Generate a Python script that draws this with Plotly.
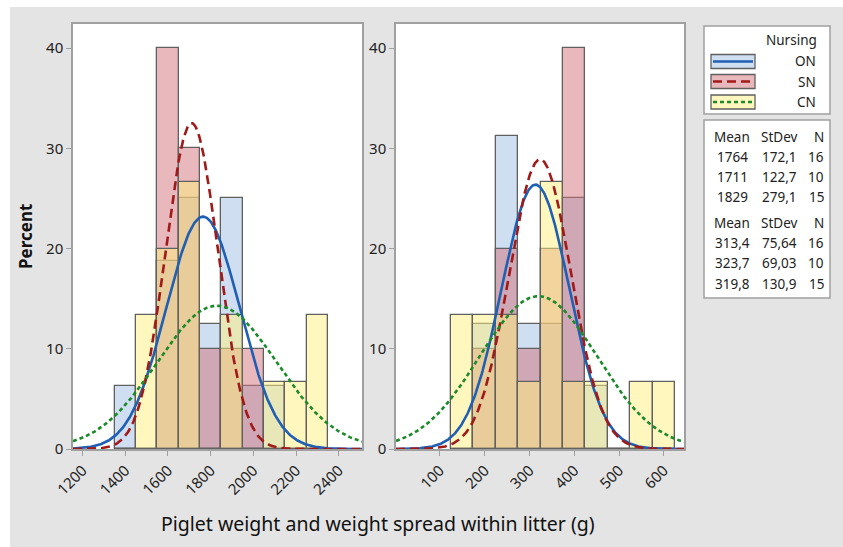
import numpy as np
import plotly.graph_objects as go

W, H = 843, 547

# ---------------- data ----------------
groups = ["ON", "SN", "CN"]

# Left panel: piglet weight (g), bins of width 100
w_centers = [1400, 1500, 1600, 1700, 1800, 1900, 2000, 2100, 2200, 2300]
w_pct_ON = [6.25, 0, 18.75, 25.0, 12.5, 25.0, 6.25, 6.25, 0, 0]
w_pct_SN = [0, 0, 40.0, 30.0, 10.0, 10.0, 10.0, 0, 0, 0]
w_pct_CN = [0, 13.33, 20.0, 26.67, 0, 13.33, 0, 6.67, 6.67, 13.33]
w_mean = [1764, 1711, 1829]
w_sd = [172.1, 122.7, 279.1]
w_n = [16, 10, 15]
w_ticks = [1200, 1400, 1600, 1800, 2000, 2200, 2400]

# Right panel: weight spread within litter (g), bins of width 50
s_centers = [150, 200, 250, 300, 350, 400, 450, 500, 550, 600]
s_pct_ON = [0, 12.5, 31.25, 12.5, 12.5, 25.0, 6.25, 0, 0, 0]
s_pct_SN = [0, 10.0, 20.0, 10.0, 20.0, 40.0, 0, 0, 0, 0]
s_pct_CN = [13.33, 13.33, 13.33, 6.67, 26.67, 6.67, 6.67, 0, 6.67, 6.67]
s_mean = [313.4, 323.7, 319.8]
s_sd = [75.64, 69.03, 130.9]
s_n = [16, 10, 15]
s_ticks = [100, 200, 300, 400, 500, 600]

stat_w_labels = ["1764", "1711", "1829"]
stat_w_sd_labels = ["172,1", "122,7", "279,1"]
stat_s_labels = ["313,4", "323,7", "319,8"]
stat_s_sd_labels = ["75,64", "69,03", "130,9"]

# ---------------- styles ----------------
fill = {"ON": "rgba(159,189,225,0.5)", "SN": "rgba(209,113,121,0.5)", "CN": "rgba(255,239,125,0.5)"}
line_col = {"ON": "#1f5fb4", "SN": "#a11a1a", "CN": "#1c8a2a"}
dash = {"ON": "solid", "SN": "9px,5px", "CN": "4px,3px"}
FONT = "Noto Sans"
TXT = "#222222"


def px(x):
    return x / W


def py(y):
    return 1 - y / H


fig = go.Figure()

w_range = [1155, 2509]
s_range = [2, 645]

panels = [
    (w_centers, [w_pct_ON, w_pct_SN, w_pct_CN], w_mean, w_sd, 100, w_range, "x", "y"),
    (s_centers, [s_pct_ON, s_pct_SN, s_pct_CN], s_mean, s_sd, 50, s_range, "x2", "y2"),
]

for centers, pcts, means, sds, bw, xr, xa, ya in panels:
    for g, vals in zip(groups, pcts):
        fig.add_trace(go.Bar(
            x=centers, y=vals, width=bw, xaxis=xa, yaxis=ya,
            marker=dict(color=fill[g], line=dict(color="#606060", width=1.3)),
            showlegend=False, hoverinfo="skip"))
    xs = np.linspace(xr[0], xr[1], 400)
    for g, m, s in zip(groups, means, sds):
        ys = 100 * bw * np.exp(-0.5 * ((xs - m) / s) ** 2) / (s * np.sqrt(2 * np.pi))
        fig.add_trace(go.Scatter(
            x=xs, y=ys, mode="lines", xaxis=xa, yaxis=ya,
            line=dict(color=line_col[g], width=2.6, dash=dash[g]),
            showlegend=False, hoverinfo="skip"))

axis_common = dict(
    showline=True, linecolor="#a0a0a0", linewidth=1.5, mirror=True,
    ticks="outside", tickcolor="#a0a0a0", ticklen=5, tickwidth=1,
    showgrid=False, zeroline=False, automargin=False,
    tickfont=dict(family=FONT, size=15, color=TXT),
)

y_top, y_bot = 24, 449
fig.update_layout(
    width=W, height=H,
    margin=dict(l=0, r=0, t=0, b=0, pad=0),
    paper_bgcolor="#e4e4e4",
    plot_bgcolor="white",
    barmode="overlay",
    bargap=0,
    showlegend=False,
    xaxis=dict(domain=[px(73), px(362)], range=w_range, tickvals=w_ticks,
               ticktext=[str(t) for t in w_ticks], tickangle=-45, anchor="y", **axis_common),
    yaxis=dict(domain=[py(y_bot), py(y_top)], range=[0, 42.4], tickvals=[0, 10, 20, 30, 40],
               anchor="x", **axis_common),
    xaxis2=dict(domain=[px(396), px(684)], range=s_range, tickvals=s_ticks,
                ticktext=[str(t) for t in s_ticks], tickangle=-45, anchor="y2", **axis_common),
    yaxis2=dict(domain=[py(y_bot), py(y_top)], range=[0, 42.4], tickvals=[0, 10, 20, 30, 40],
                anchor="x2", **axis_common),
)

shapes = []
annotations = []


def txt(text, x, y, xa="center", size=14, **kw):
    annotations.append(dict(text=text, xref="paper", yref="paper", x=px(x), y=py(y),
                            xanchor=xa, yanchor="middle", showarrow=False,
                            font=dict(family=FONT, size=size, color=kw.pop("color", TXT),
                                      **kw.pop("fkw", {})), **kw))


# white strips at top/left of the image
shapes.append(dict(type="rect", xref="paper", yref="paper", x0=0, x1=px(10), y0=0, y1=1,
                   fillcolor="white", line=dict(width=0), layer="below"))
shapes.append(dict(type="rect", xref="paper", yref="paper", x0=0, x1=1, y0=py(7), y1=1,
                   fillcolor="white", line=dict(width=0), layer="below"))

# axis titles
txt("Percent", 25, 237, size=17, textangle=-90, color="#111111", fkw=dict(weight="bold"))
txt("Piglet weight and weight spread within litter (g)", 378, 523, size=19.5, color="#111111")

# legend box
shapes.append(dict(type="rect", xref="paper", yref="paper", x0=px(704), x1=px(830),
                   y0=py(114), y1=py(26), fillcolor="white",
                   line=dict(color="#a0a0a0", width=1.5)))
txt("Nursing", 819, 40, xa="right", size=13.5)
row_y = [61.5, 81.5, 102]
for g, yc in zip(groups, row_y):
    shapes.append(dict(type="rect", xref="paper", yref="paper", x0=px(711), x1=px(755),
                       y0=py(yc + 7), y1=py(yc - 7), fillcolor=fill[g],
                       line=dict(color="#606060", width=1.3)))
    shapes.append(dict(type="line", xref="paper", yref="paper", x0=px(713), x1=px(753),
                       y0=py(yc), y1=py(yc),
                       line=dict(color=line_col[g], width=2.6, dash=dash[g])))
    txt(g, 818, yc, xa="right", size=13.5)

# stats box
shapes.append(dict(type="rect", xref="paper", yref="paper", x0=px(704), x1=px(830),
                   y0=py(298), y1=py(120), fillcolor="white",
                   line=dict(color="#a0a0a0", width=1.5)))


def stat_row(y, a, b, c):
    txt(a, 732, y, size=13.5)
    txt(b, 779, y, size=13.5)
    txt(c, 826, y, xa="right", size=13.5)


stat_row(137, "Mean", "StDev", "N")
for i, yy in enumerate([157, 177, 197]):
    stat_row(yy, stat_w_labels[i], stat_w_sd_labels[i], str(w_n[i]))
stat_row(223, "Mean", "StDev", "N")
for i, yy in enumerate([243, 263, 284]):
    stat_row(yy, stat_s_labels[i], stat_s_sd_labels[i], str(s_n[i]))

fig.update_layout(shapes=shapes, annotations=annotations)

fig.write_html("out.html", post_script="document.body.style.margin='0';")
